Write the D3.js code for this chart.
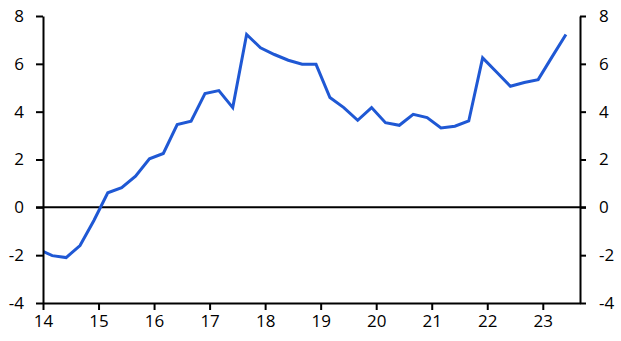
<!DOCTYPE html>
<html><head><meta charset="utf-8">
<script src="https://cdn.jsdelivr.net/npm/d3@7"></script>
<style>
html,body{margin:0;padding:0;background:#fff;}
text{font-family:"Open Sans","Noto Sans",sans-serif;font-size:17px;fill:#000;}
</style></head>
<body><svg id="c" width="621" height="341"></svg>
<script>
// Quarterly series, first observation Nov-2013 (clipped at the axis)
const startYear = 13 + 11/12;
const values = [-1.75,-2.02,-2.10,-1.60,-0.55,0.61,0.82,1.30,2.03,2.25,3.46,3.60,4.76,4.88,4.17,7.23,6.67,6.39,6.15,5.98,5.98,4.59,4.17,3.64,4.17,3.54,3.43,3.89,3.75,3.32,3.39,3.61,6.25,5.66,5.06,5.22,5.34,6.29,7.23];
const xTicks = [14,15,16,17,18,19,20,21,22,23];
const yTicks = [-4,-2,0,2,4,6,8];
const xDomain = [14, 23.67];
const yDomain = [-4, 8];

const data = values.map((v,i)=>({x:startYear + i*0.25, y:v}));

const svg = d3.select("#c");
const m = {l:43, r:41, t:16, b:38};
const W = 621, H = 341;
const x = d3.scaleLinear().domain(xDomain).range([m.l, W - m.r]);
const y = d3.scaleLinear().domain(yDomain).range([H - m.b, m.t]);
const fmt = d => String(d);

svg.append("clipPath").attr("id","clip").append("rect")
  .attr("x", x(xDomain[0])).attr("y", 0)
  .attr("width", x(xDomain[1]) - x(xDomain[0])).attr("height", H);

// zero line
svg.append("line")
  .attr("x1", x(xDomain[0]) - 7).attr("x2", x(xDomain[1]) + 6)
  .attr("y1", y(0)).attr("y2", y(0))
  .attr("stroke","#000").attr("stroke-width",2);

// series
svg.append("path").datum(data)
  .attr("clip-path","url(#clip)")
  .attr("fill","none").attr("stroke","#1f58d4").attr("stroke-width",3)
  .attr("stroke-linejoin","miter")
  .attr("d", d3.line().x(d=>x(d.x)).y(d=>y(d.y)));

function styleAxis(g){
  g.select(".domain").attr("stroke","#000").attr("stroke-width",2);
  g.selectAll(".tick line").attr("stroke","#000").attr("stroke-width",2);
  g.selectAll(".tick text").attr("fill","#000").style("font-size","17px")
   .style("font-family",'"Open Sans","Noto Sans",sans-serif');
}

const gl = svg.append("g").attr("transform",`translate(${m.l},0)`)
  .call(d3.axisLeft(y).tickValues(yTicks).tickSize(7).tickSizeOuter(0).tickPadding(12).tickFormat(fmt));
styleAxis(gl);

const gr = svg.append("g").attr("transform",`translate(${W - m.r},0)`)
  .call(d3.axisRight(y).tickValues(yTicks).tickSize(6).tickSizeOuter(0).tickPadding(13).tickFormat(fmt));
styleAxis(gr);

const gb = svg.append("g").attr("transform",`translate(0,${H - m.b})`)
  .call(d3.axisBottom(x).tickValues(xTicks).tickSize(7).tickSizeOuter(0).tickPadding(5).tickFormat(fmt));
styleAxis(gb);
</script></body></html>
